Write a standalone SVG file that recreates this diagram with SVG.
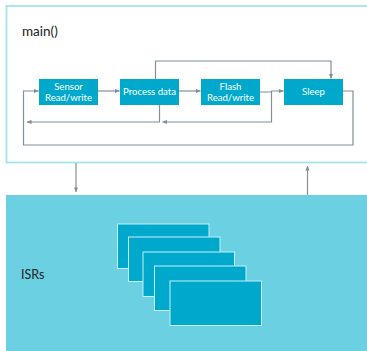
<svg xmlns="http://www.w3.org/2000/svg" width="367" height="351" viewBox="0 0 367 351">
<defs>
<style>
.blk{fill:#00a9cc}
.lbl{font-family:Lato,"Open Sans",sans-serif;font-size:9.6px;fill:#ffffff;text-anchor:middle;font-weight:400}
.ln{fill:none;stroke:#7f8f9c;stroke-width:1.2}
.isr{fill:#00a9cc;stroke:#c4f0f7;stroke-width:1}
.ttl{font-family:Lato,"Open Sans",sans-serif;fill:#222222}
</style>
<marker id="ah" viewBox="0 0 6 6" refX="5.5" refY="3" markerWidth="5" markerHeight="5" orient="auto" markerUnits="userSpaceOnUse">
<path d="M0,0.5 L6,3 L0,5.5 Z" fill="#7f8f9c"/>
</marker>
</defs>
<rect x="0" y="0" width="367" height="351" fill="#ffffff"/>
<g id="main">
<rect x="6.5" y="6" width="362" height="156.5" fill="#ffffff" stroke="#a3e4ef" stroke-width="1.8"/>
<text class="ttl" x="22" y="36" font-size="13.5">main()</text>
</g>
<g id="isr-region">
<rect x="6" y="195" width="361" height="156" fill="#6bd0e2"/>
<text class="ttl" x="21" y="279" font-size="12.5">ISRs</text>
</g>
<g id="sensor"><rect class="blk" x="39" y="79" width="59" height="26"/><text class="lbl" x="68.5" y="89.5">Sensor</text><text class="lbl" x="68.5" y="100.5">Read/write</text></g>
<g id="process"><rect class="blk" x="120" y="79" width="59" height="26"/><text class="lbl" x="149.5" y="94.5">Process data</text></g>
<g id="flash"><rect class="blk" x="201" y="79" width="59" height="26"/><text class="lbl" x="230.5" y="89.5">Flash</text><text class="lbl" x="230.5" y="100.5">Read/write</text></g>
<g id="sleep"><rect class="blk" x="284" y="79" width="59" height="26"/><text class="lbl" x="313.5" y="94.5">Sleep</text></g>
<g id="isr-stack">
<rect class="isr" x="117.5" y="224" width="91.5" height="44.5"/>
<rect class="isr" x="128.5" y="237" width="91.5" height="44.5"/>
<rect class="isr" x="143" y="252" width="91.5" height="44.5"/>
<rect class="isr" x="154.5" y="266" width="91.5" height="44.5"/>
<rect class="isr" x="170" y="281" width="91.5" height="44.5"/>
</g>
<g id="connectors">
<path class="ln" d="M98,91 H119.5" marker-end="url(#ah)"/>
<path class="ln" d="M179,91 H200.5" marker-end="url(#ah)"/>
<path class="ln" d="M260,92 H271.5 V91 H283.5" marker-end="url(#ah)"/>
<path class="ln" d="M155.5,79 V61 H331 V78.5" marker-end="url(#ah)"/>
<path class="ln" d="M159.5,105 V122 H27" marker-end="url(#ah)"/>
<path class="ln" d="M271.5,92 V122 H162.5" marker-end="url(#ah)"/>
<path class="ln" d="M343,91 H353 V145 H23.5 V91 H38.5" marker-end="url(#ah)"/>
<path class="ln" d="M76,163 V192" marker-end="url(#ah)"/>
<path class="ln" d="M307.5,195 V166" marker-end="url(#ah)"/>
</g>
</svg>
